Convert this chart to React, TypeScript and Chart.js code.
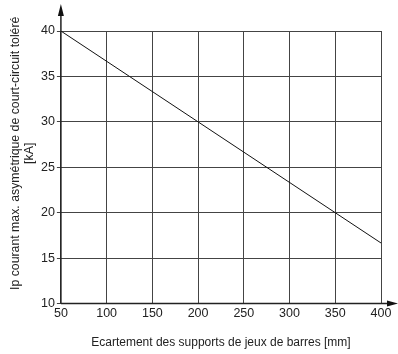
import React, { useEffect, useRef } from "react";
import { Chart, registerables } from "chart.js";

Chart.register(...registerables);

const xValues = [50, 200, 350, 400];
const yValues = [40, 30, 20, 16.67];
const xTitle = "Ecartement des supports de jeux de barres [mm]";
const yTitle = ["Ip courant max. asymétrique de court-circuit toléré", "[kA]"];

const FONT = "'Liberation Sans', Arial, Helvetica, sans-serif";

const arrowAxes = {
  id: "arrowAxes",
  afterDraw(chart: any) {
    const { ctx, chartArea } = chart;
    const { left, bottom, top, right } = chartArea;
    ctx.save();
    ctx.strokeStyle = "#222";
    ctx.fillStyle = "#111";
    ctx.lineWidth = 1.5;
    ctx.beginPath();
    ctx.moveTo(left, bottom);
    ctx.lineTo(left, top - 18);
    ctx.moveTo(left, bottom);
    ctx.lineTo(right + 10, bottom);
    ctx.stroke();
    ctx.beginPath();
    ctx.moveTo(left, top - 27);
    ctx.lineTo(left - 3, top - 15);
    ctx.lineTo(left + 3, top - 15);
    ctx.closePath();
    ctx.fill();
    ctx.beginPath();
    ctx.moveTo(right + 17, bottom);
    ctx.lineTo(right + 6, bottom - 3);
    ctx.lineTo(right + 6, bottom + 3);
    ctx.closePath();
    ctx.fill();

    ctx.fillStyle = "#222";
    ctx.font = `12.3px ${FONT}`;
    ctx.textAlign = "center";
    ctx.textBaseline = "middle";
    ctx.translate(left - 45, (top + bottom) / 2 - 14);
    ctx.rotate(-Math.PI / 2);
    ctx.fillText(yTitle[0], 0, 0);
    ctx.fillText(yTitle[1], 0, 14);
    ctx.restore();
  },
};

export default function App() {
  const ref = useRef<HTMLCanvasElement>(null);
  useEffect(() => {
    document.body.style.margin = "0";
    const chart = new Chart(ref.current!, {
      type: "line",
      data: {
        datasets: [
          {
            data: xValues.map((x, i) => ({ x, y: yValues[i] })),
            borderColor: "#111",
            borderWidth: 1,
            pointRadius: 0,
            fill: false,
            tension: 0,
          },
        ],
      },
      options: {
        animation: false,
        responsive: false,
        layout: { padding: { top: 31, right: 17, bottom: 4, left: 39 } },
        plugins: { legend: { display: false }, tooltip: { enabled: false } },
        scales: {
          x: {
            type: "linear",
            min: 50,
            max: 400,
            ticks: { stepSize: 50, color: "#222", font: { family: FONT, size: 12.5 }, padding: 2 },
            grid: { color: "#444", lineWidth: 1, drawTicks: false },
            border: { display: false },
            title: { display: true, text: xTitle, color: "#222", font: { family: FONT, size: 12 }, padding: { top: 13, bottom: 0 } },
          },
          y: {
            type: "linear",
            min: 10,
            max: 40,
            ticks: { stepSize: 5, color: "#222", font: { family: FONT, size: 12.5 }, padding: 2 },
            grid: { color: "#444", lineWidth: 1, drawTicks: true, tickLength: 4 },
            border: { display: false },
          },
        },
      },
      plugins: [arrowAxes],
    });
    return () => chart.destroy();
  }, []);
  return <canvas ref={ref} width={398} height={354} style={{ display: "block" }} />;
}
